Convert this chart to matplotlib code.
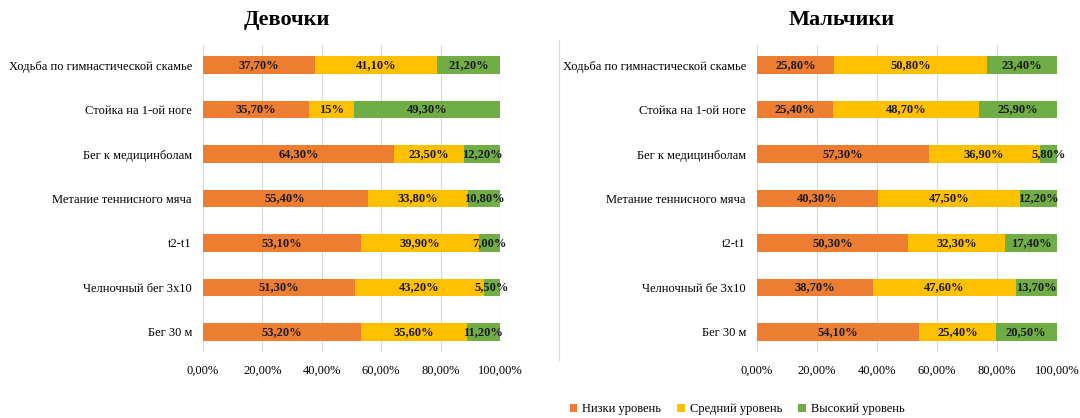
import matplotlib
matplotlib.use("Agg")
import matplotlib.pyplot as plt
from matplotlib.lines import Line2D
import numpy as np

plt.rcParams['font.family'] = ['Liberation Serif', 'DejaVu Serif']

categories_girls = ["Бег 30 м", "Челночный бег 3х10", "t2-t1", "Метание теннисного мяча",
                    "Бег к медицинболам", "Стойка на 1-ой ноге", "Ходьба по гимнастической скамье"]
categories_boys = ["Бег 30 м", "Челночный бе 3х10", "t2-t1", "Метание теннисного мяча",
                   "Бег к медицинболам", "Стойка на 1-ой ноге", "Ходьба по гимнастической скамье"]

girls_low = [53.2, 51.3, 53.1, 55.4, 64.3, 35.7, 37.7]
girls_mid = [35.6, 43.2, 39.9, 33.8, 23.5, 15.0, 41.1]
girls_high = [11.2, 5.5, 7.0, 10.8, 12.2, 49.3, 21.2]
girls_mid_labels = ["35,60%", "43,20%", "39,90%", "33,80%", "23,50%", "15%", "41,10%"]

boys_low = [54.1, 38.7, 50.3, 40.3, 57.3, 25.4, 25.8]
boys_mid = [25.4, 47.6, 32.3, 47.5, 36.9, 48.7, 50.8]
boys_high = [20.5, 13.7, 17.4, 12.2, 5.8, 25.9, 23.4]

series_names = ["Низки уровень", "Средний уровень", "Высокий уровень"]
colors = ["#ED7D31", "#FFC000", "#70AD47"]
xticks = [0, 20, 40, 60, 80, 100]
xtick_labels = ["0,00%", "20,00%", "40,00%", "60,00%", "80,00%", "100,00%"]


def fmt(v):
    return f"{v:.1f}".replace(".", ",") + "0%"


fig = plt.figure(figsize=(10.8, 4.18), dpi=100)
fig.patch.set_facecolor("white")

ax_g = fig.add_axes([203/1080, 1-352/418, 297/1080, 307/418])
ax_b = fig.add_axes([757/1080, 1-352/418, 300/1080, 307/418])


def draw(ax, cats, low, mid, high, mid_labels=None):
    y = np.arange(len(cats))
    left = np.zeros(len(cats))
    vals = [low, mid, high]
    for i, (v, c, name) in enumerate(zip(vals, colors, series_names)):
        v = np.array(v)
        ax.barh(y, v, left=left, height=0.4, color=c, label=name, zorder=2)
        if i == 1 and mid_labels is not None:
            labels = mid_labels
        else:
            labels = [fmt(x) for x in v]
        for yy, l0, w, lab in zip(y, left, v, labels):
            ax.text(l0 + w/2, yy, lab, ha="center", va="center", fontsize=9,
                    fontweight="bold", color="#1a1a1a", zorder=3)
        left = left + v
    ax.set_xlim(0, 100)
    ax.set_ylim(-0.45, len(cats) - 0.55)
    ax.set_yticks(y)
    ax.set_yticklabels(cats, fontsize=9)
    ax.set_xticks(xticks)
    ax.set_xticklabels(xtick_labels, fontsize=9)
    ax.grid(axis="x", color="#d9d9d9", linewidth=0.8, zorder=0)
    for s in ax.spines.values():
        s.set_visible(False)
    ax.tick_params(length=0, pad=8)
    ax.tick_params(axis="x", pad=9)


draw(ax_g, categories_girls, girls_low, girls_mid, girls_high, girls_mid_labels)
draw(ax_b, categories_boys, boys_low, boys_mid, boys_high)

fig.text(287/1080, 1-20/418, "Девочки", ha="center", va="center", fontsize=16, fontweight="bold")
fig.text(842/1080, 1-20/418, "Мальчики", ha="center", va="center", fontsize=16, fontweight="bold")

fig.add_artist(Line2D([559/1080, 559/1080], [1-40/418, 1-360/418], color="#d9d9d9", linewidth=0.8))

handles, labels = ax_b.get_legend_handles_labels()
fig.legend(handles, labels, loc="center left", bbox_to_anchor=(562/1080, 1-409/418), ncol=3,
           frameon=False, fontsize=9, handlelength=0.6, handleheight=0.6, columnspacing=1.3,
           handletextpad=0.4, borderpad=0.1)

fig.savefig("out.png", dpi=100, facecolor="white")
